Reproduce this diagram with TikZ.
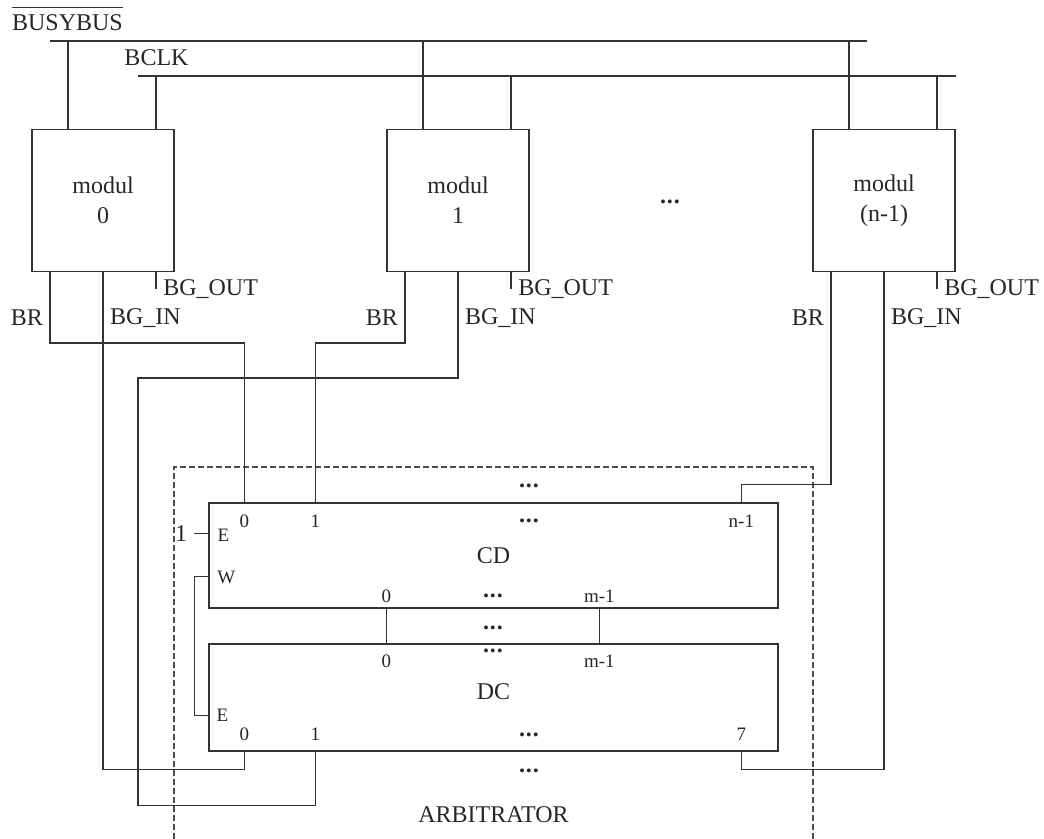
\documentclass[tikz,border=0pt]{standalone}
\usepackage{fontspec}
\setmainfont{Liberation Serif}
\usetikzlibrary{calc}

\tikzset{
  wire/.style={draw=black!80, line width=0.6pt},
  frame/.style={draw=black!70, line width=0.6pt, dash pattern=on 3pt off 1.5pt},
  modbox/.style={draw=black!80, line width=0.6pt, minimum width=71pt, minimum height=71pt,
    align=center, text=black!85, font=\fontsize{12}{15}\selectfont},
  unitbox/.style={draw=black!80, line width=0.6pt, minimum width=284.5pt, inner sep=0pt},
  big/.style={text=black!85, font=\fontsize{12}{14}\selectfont},
  small/.style={text=black!85, font=\fontsize{9.5}{11}\selectfont},
}
\newcommand{\dotsrow}{\textbf{.\kern0.5pt.\kern0.5pt.}}

\begin{document}
\begin{tikzpicture}[x=0.5pt, y=-0.5pt]
\useasboundingbox (0,0) rectangle (1044,839);

% bus lines
\node[big, inner sep=0pt] (busy) at (67.5,22.5) {BUSYBUS};
\draw[wire] ([yshift=3.2pt]busy.north west) -- ([yshift=3.2pt]busy.north east);
\coordinate (busyL) at (50,41);
\coordinate (busyR) at (867,41);
\draw[wire] (busyL) -- (busyR);
\node[big] (bclk) at (156.5,58) {BCLK};
\coordinate (bclkL) at (138,76);
\coordinate (bclkR) at (956,76);
\draw[wire] (bclkL) -- (bclkR);

% modules
\node[modbox] (mod0) at (103,200.5) {modul\\0};
\node[modbox] (mod1) at (458,200.5) {modul\\1};
\node[modbox] (modn) at (884,200.5) {modul\\(n-1)};
\node[big] (mdots) at (670,202) {\dotsrow};

\coordinate (m0busy) at ($(mod0.north)+(-35,0)$);
\coordinate (m0clk) at ($(mod0.north)+(53,0)$);
\coordinate (m1busy) at ($(mod1.north)+(-35,0)$);
\coordinate (m1clk) at ($(mod1.north)+(53,0)$);
\coordinate (mnbusy) at ($(modn.north)+(-35,0)$);
\coordinate (mnclk) at ($(modn.north)+(53,0)$);
\draw[wire] (m0busy) -- (m0busy |- busyL);
\draw[wire] (m0clk) -- (m0clk |- bclkL);
\draw[wire] (m1busy) -- (m1busy |- busyL);
\draw[wire] (m1clk) -- (m1clk |- bclkL);
\draw[wire] (mnbusy) -- (mnbusy |- busyL);
\draw[wire] (mnclk) -- (mnclk |- bclkL);

% module outputs
\coordinate (m0br) at ($(mod0.south)+(-53,0)$);
\coordinate (m0out) at ($(mod0.south)+(53,0)$);
\coordinate (m1br) at ($(mod1.south)+(-53,0)$);
\coordinate (m1out) at ($(mod1.south)+(53,0)$);
\coordinate (mnbr) at ($(modn.south)+(-53,0)$);
\coordinate (mnout) at ($(modn.south)+(53,0)$);
\draw[wire] (m0out) -- ++(0,17) node[big, right] (lout0) {BG\textunderscore OUT};
\draw[wire] (m1out) -- ++(0,17) node[big, right] (lout1) {BG\textunderscore OUT};
\draw[wire] (mnout) -- ++(0,17) node[big, right] (loutn) {BG\textunderscore OUT};
\node[big, left] (lbr0) at ($(m0br)+(0,46)$) {BR};
\node[big, left] (lbr1) at ($(m1br)+(0,46)$) {BR};
\node[big, left] (lbrn) at ($(mnbr)+(0,46)$) {BR};
\node[big, right] (lin0) at ($(mod0.south)+(0,46)$) {BG\textunderscore IN};
\node[big, right] (lin1) at ($(mod1.south)+(0,46)$) {BG\textunderscore IN};
\node[big, right] (linn) at ($(modn.south)+(0,46)$) {BG\textunderscore IN};

% arbitrator
\draw[frame] (174,839) -- (174,467) -- (813,467) -- (813,839);
\node[big] (arb) at (493.5,815) {ARBITRATOR};
\node[unitbox, minimum height=52.5pt] (cd) at (493.5,555.5) {};
\node[unitbox, minimum height=53.5pt] (dc) at (493.5,697.5) {};
\node[big] (lcd) at (493.5,556) {CD};
\node[big] (ldc) at (493.5,692) {DC};

% CD pins
\coordinate (cd0) at ($(cd.north west)+(36,0)$);
\coordinate (cd1) at ($(cd.north west)+(107,0)$);
\coordinate (cdn) at ($(cd.north west)+(533,0)$);
\coordinate (cdE) at ($(cd.north west)+(0,31)$);
\coordinate (cdW) at ($(cd.north west)+(0,74)$);
\coordinate (cdo0) at ($(cd.south west)+(178,0)$);
\coordinate (cdom) at ($(cd.south west)+(391,0)$);
\node[small] (tcd0) at ($(cd0)+(0,19)$) {0};
\node[small] (tcd1) at ($(cd1)+(0,19)$) {1};
\node[small] (tcdn) at ($(cdn)+(0,19)$) {n-1};
\node[big] (tcdd) at (529,521) {\dotsrow};
\node[big] (tcdt) at (529,486) {\dotsrow};
\node[small] (tcdE) at ($(cdE)+(15,2)$) {E};
\node[small] (tcdW) at ($(cdW)+(18,1)$) {W};
\node[small] (tcdo0) at ($(cdo0)+(0,-12)$) {0};
\node[small] (tcdom) at ($(cdom)+(0,-12)$) {m-1};
\node[big] (tcdod) at (493,596) {\dotsrow};
\node[big] (tmid) at (493,628) {\dotsrow};

% DC pins
\coordinate (dci0) at ($(dc.north west)+(178,0)$);
\coordinate (dcim) at ($(dc.north west)+(391,0)$);
\coordinate (dcE) at ($(dc.north west)+(0,72)$);
\coordinate (dc0) at ($(dc.south west)+(36,0)$);
\coordinate (dc1) at ($(dc.south west)+(107,0)$);
\coordinate (dc7) at ($(dc.south west)+(533,0)$);
\node[small] (tdci0) at ($(dci0)+(0,18)$) {0};
\node[small] (tdcim) at ($(dcim)+(0,18)$) {m-1};
\node[big] (tdcid) at (493,651) {\dotsrow};
\node[small] (tdcE) at ($(dcE)+(14,0)$) {E};
\node[small] (tdc0) at ($(dc0)+(0,-17)$) {0};
\node[small] (tdc1) at ($(dc1)+(0,-17)$) {1};
\node[small] (tdc7) at ($(dc7)+(0,-17)$) {7};
\node[big] (tdcd) at (529,735) {\dotsrow};
\node[big] (tdcb) at (529,771) {\dotsrow};

% connections
\draw[wire] (cdE) -- ++(-14,0) node[big, left] (one) {1};
\draw[wire] (cdW) -- ++(-14,0) |- (dcE);
\draw[wire] (cdo0) -- (dci0);
\draw[wire] (cdom) -- (dcim);
\draw[wire] (m0br) -- ++(0,71) -| (cd0);
\draw[wire] (m1br) -- ++(0,71) -| (cd1);
\draw[wire] (mnbr) -- ++(0,212) -| (cdn);
\draw[wire] (mod0.south) -- ++(0,497) -| (dc0);
\draw[wire] (mod1.south) -- ++(0,106) -- ++(-320,0) |- ($(dc1)+(0,54)$) -- (dc1);
\draw[wire] (modn.south) -- ++(0,497) -| (dc7);
\end{tikzpicture}
\end{document}
